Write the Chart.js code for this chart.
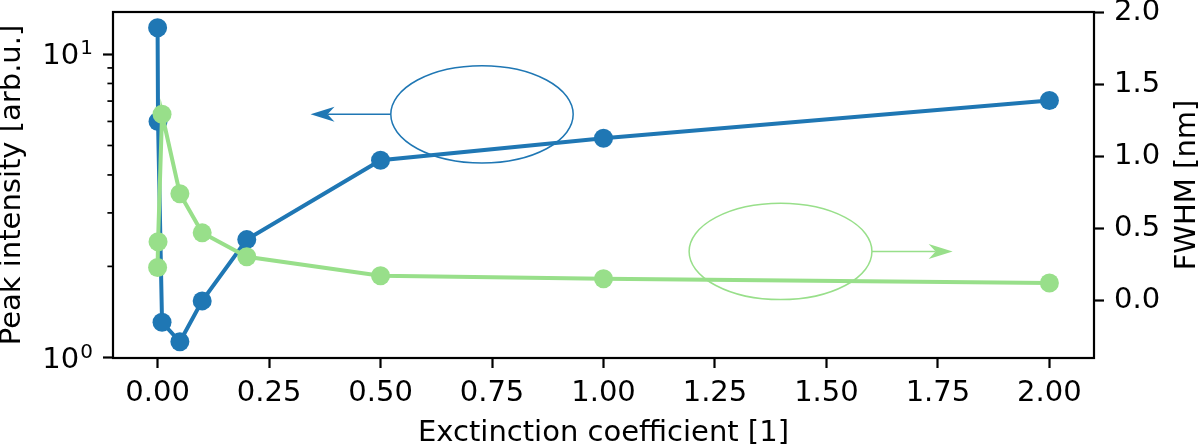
<!DOCTYPE html>
<html><head><meta charset="utf-8">
<script src="https://cdn.jsdelivr.net/npm/chart.js@4/dist/chart.umd.min.js"></script>
<style>html,body{margin:0;padding:0;background:#fff;}canvas{display:block;}</style>
</head><body>
<canvas id="c" width="1200" height="445" style="width:1200px;height:445px"></canvas>
<script>
// ---- data ----
const extinction = [0, 0.001, 0.01, 0.05, 0.1, 0.2, 0.5, 1, 2];
const peakIntensity = [12.2, 6.0, 1.31, 1.13, 1.54, 2.45, 4.47, 5.28, 7.03];
const fwhm = [0.228, 0.407, 1.291, 0.739, 0.468, 0.302, 0.171, 0.150, 0.120];
const xTicks = [0, 0.25, 0.5, 0.75, 1, 1.25, 1.5, 1.75, 2];
const leftMajorTicks = [1, 10];
const leftMajorExponents = ['0', '1'];
const leftMinorTicks = [2, 3, 4, 5, 6, 7, 8, 9];
const rightTicks = [0, 0.5, 1, 1.5, 2];
const xLabel = 'Exctinction coefficient [1]';
const leftLabel = 'Peak intensity [arb.u.]';
const rightLabel = 'FWHM [nm]';
// annotation ellipses (data coordinates) with arrow target x
const blueNoteX = [0.523, 0.932];
const blueNoteY = [4.38, 9.15];
const blueArrowTo = 0.343;
const greenNoteX = [1.192, 1.602];
const greenNoteY = [0.005, 0.673];
const greenArrowTo = 1.783;

const BLUE = '#1f77b4';
const GREEN = '#98df8a';
const FAMILY = "'DejaVu Sans', sans-serif";
const SIZE = 29;
const FONT = {family: FAMILY, size: SIZE, lineHeight: 1};
Chart.defaults.font.family = FAMILY;
Chart.defaults.color = '#000';

function drawArrow(ctx, x0, y0, x1, y1, color) {
  const dx = x1 - x0, dy = y1 - y0, len = Math.hypot(dx, dy);
  const ux = dx / len, uy = dy / len;
  const L = 24, W = 7.5, notch = 17;
  ctx.strokeStyle = color; ctx.fillStyle = color; ctx.lineWidth = 1.5;
  ctx.beginPath(); ctx.moveTo(x0, y0); ctx.lineTo(x1 - ux * notch, y1 - uy * notch); ctx.stroke();
  ctx.beginPath();
  ctx.moveTo(x1, y1);
  ctx.lineTo(x1 - ux * L - uy * W, y1 - uy * L + ux * W);
  ctx.lineTo(x1 - ux * notch, y1 - uy * notch);
  ctx.lineTo(x1 - ux * L + uy * W, y1 - uy * L - ux * W);
  ctx.closePath(); ctx.fill();
}

function drawEllipse(ctx, sx, sy, xs, ys, color) {
  const xa = sx.getPixelForValue(xs[0]), xb = sx.getPixelForValue(xs[1]);
  const ya = sy.getPixelForValue(ys[0]), yb = sy.getPixelForValue(ys[1]);
  const cx = (xa + xb) / 2, cy = (ya + yb) / 2;
  ctx.strokeStyle = color; ctx.lineWidth = 1.5;
  ctx.beginPath();
  ctx.ellipse(cx, cy, Math.abs(xb - xa) / 2, Math.abs(yb - ya) / 2, 0, 0, Math.PI * 2);
  ctx.stroke();
  return {left: Math.min(xa, xb), right: Math.max(xa, xb), cy};
}

const decor = {
  id: 'decor',
  beforeDatasetsDraw(chart) {
    const {ctx, scales} = chart;
    ctx.save();
    const b = drawEllipse(ctx, scales.x, scales.y, blueNoteX, blueNoteY, BLUE);
    drawArrow(ctx, b.left, b.cy, scales.x.getPixelForValue(blueArrowTo), b.cy, BLUE);
    const g = drawEllipse(ctx, scales.x, scales.y1, greenNoteX, greenNoteY, GREEN);
    drawArrow(ctx, g.right, g.cy, scales.x.getPixelForValue(greenArrowTo), g.cy, GREEN);
    ctx.restore();
  },
  afterDraw(chart) {
    const {ctx, chartArea, scales} = chart;
    ctx.save();
    ctx.strokeStyle = '#000';
    ctx.lineWidth = 2.2;
    ctx.strokeRect(chartArea.left, chartArea.top, chartArea.right - chartArea.left, chartArea.bottom - chartArea.top);
    ctx.lineWidth = 1.7;
    leftMinorTicks.forEach(v => {
      const y = scales.y.getPixelForValue(v);
      ctx.beginPath(); ctx.moveTo(chartArea.left, y); ctx.lineTo(chartArea.left - 5.6, y); ctx.stroke();
    });
    // log tick labels: 10 with superscript exponent
    ctx.fillStyle = '#000';
    ctx.textBaseline = 'alphabetic';
    ctx.textAlign = 'left';
    const supSize = Math.round(SIZE * 0.7);
    leftMajorTicks.forEach((v, i) => {
      const y = scales.y.getPixelForValue(v);
      const base = y + SIZE * 0.36;
      ctx.font = supSize + 'px ' + FAMILY;
      const wSup = ctx.measureText(leftMajorExponents[i]).width;
      ctx.font = SIZE + 'px ' + FAMILY;
      const wMain = ctx.measureText('10').width;
      const xEnd = chartArea.left - 20;
      const xStart = xEnd - wSup - wMain - 1;
      ctx.fillText('10', xStart, base);
      ctx.font = supSize + 'px ' + FAMILY;
      ctx.fillText(leftMajorExponents[i], xStart + wMain + 1, base - 10);
    });
    ctx.font = SIZE + 'px ' + FAMILY;
    ctx.textAlign = 'center'; ctx.textBaseline = 'middle';
    ctx.translate(scales.y1.right - 13, (chartArea.top + chartArea.bottom) / 2);
    ctx.rotate(-Math.PI / 2);
    ctx.fillText(rightLabel, 0, 0);
    ctx.restore();
  }
};

const tickGrid = {drawOnChartArea: false, drawTicks: true, tickLength: 10, tickWidth: 2.2, tickColor: '#000'};

new Chart(document.getElementById('c'), {
  type: 'line',
  data: {
    datasets: [
      {
        label: 'FWHM', yAxisID: 'y1', order: 0,
        data: extinction.map((x, i) => ({x, y: fwhm[i]})),
        borderColor: GREEN, backgroundColor: GREEN, borderWidth: 4,
        pointRadius: 9.5, pointHoverRadius: 9.5, pointBorderWidth: 0, pointBackgroundColor: GREEN,
        tension: 0, fill: false
      },
      {
        label: 'Peak intensity', yAxisID: 'y', order: 1,
        data: extinction.map((x, i) => ({x, y: peakIntensity[i]})),
        borderColor: BLUE, backgroundColor: BLUE, borderWidth: 4,
        pointRadius: 9.5, pointHoverRadius: 9.5, pointBorderWidth: 0, pointBackgroundColor: BLUE,
        tension: 0, fill: false
      }
    ]
  },
  options: {
    responsive: false, animation: false, devicePixelRatio: 1,
    layout: {padding: {top: 12, left: 0, right: 0, bottom: 0}},
    plugins: {legend: {display: false}, tooltip: {enabled: false}},
    scales: {
      x: {
        type: 'linear', min: -0.1, max: 2.1,
        afterBuildTicks: s => { s.ticks = xTicks.map(v => ({value: v})); },
        afterFit: s => { s.height = 87; s.paddingLeft = 0; s.paddingRight = 0; },
        ticks: {font: FONT, color: '#000', padding: 11, maxRotation: 0, autoSkip: false,
          callback: v => Number(v).toFixed(2)},
        grid: tickGrid, border: {display: false},
        title: {display: true, text: xLabel, font: {family: FAMILY, size: SIZE, lineHeight: 0.8}, color: '#000', padding: 0}
      },
      y: {
        type: 'logarithmic', position: 'left', min: 0.999, max: 13.75,
        afterBuildTicks: s => { s.ticks = leftMajorTicks.map(v => ({value: v, major: true})); },
        afterFit: s => { s.width = 113; s.paddingTop = 0; s.paddingBottom = 0; },
        ticks: {font: FONT, color: '#000', padding: 10, autoSkip: false, callback: () => ''},
        grid: tickGrid, border: {display: false},
        title: {display: true, text: leftLabel, font: {family: FAMILY, size: SIZE, lineHeight: 0.88}, color: '#000', padding: 0}
      },
      y1: {
        type: 'linear', position: 'right', min: -0.4, max: 2.0,
        afterBuildTicks: s => { s.ticks = rightTicks.map(v => ({value: v})); },
        afterFit: s => { s.width = 106; s.paddingTop = 0; s.paddingBottom = 0; },
        ticks: {font: FONT, color: '#000', padding: 10, autoSkip: false,
          callback: v => Number(v).toFixed(1)},
        grid: tickGrid, border: {display: false}
      }
    }
  },
  plugins: [decor]
});
</script>
</body></html>
